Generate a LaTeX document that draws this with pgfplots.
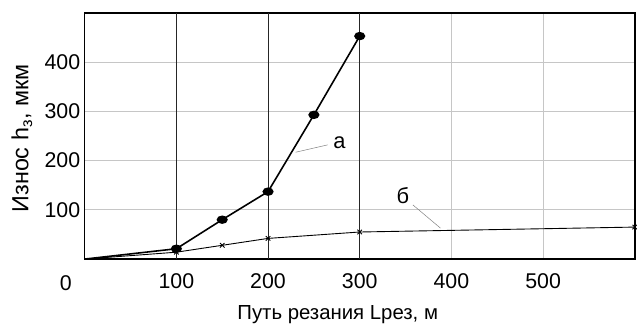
\documentclass[border=0pt]{standalone}
\usepackage{pgfplots}
\pgfplotsset{compat=1.18}
\usepackage{fontspec}
\setmainfont{Liberation Sans}
\usetikzlibrary{calc}
\begin{document}
\begin{tikzpicture}
\begin{axis}[
  name=ax,
  scale only axis,
  width=552bp, height=247bp,
  xmin=0, xmax=600, ymin=0, ymax=500,
  xtick={100,200,300,400,500},
  ytick={100,200,300,400},
  extra x ticks={100,200,300},
  extra x tick labels={},
  extra x tick style={grid=major, major grid style={black!85, line width=1.1pt}},
  grid=major,
  major grid style={gray!45, line width=0.9pt},
  tick style={draw=none},
  axis line style={black, line width=1.6pt},
  /pgf/number format/assume math mode=true,
  tick label style={font=\fontsize{21.5}{23}\selectfont},
  xticklabel style={yshift=-11.5bp},
  yticklabel style={xshift=-1pt},
  xlabel={Путь резания Lрез, м},
  xlabel style={font=\fontsize{20.5}{22}\selectfont, at={(axis description cs:0.46,0)}, anchor=center, yshift=-56bp},
  ylabel={Износ h\textsubscript{з}, мкм},
  ylabel style={font=\fontsize{23.5}{25}\selectfont, at={(axis description cs:0,0.49)}, anchor=center, yshift=63bp},
  clip=false,
]
\addplot[black, line width=1.6pt, mark=*, mark indices={2,3,4,5,6}, mark options={xscale=1.4, scale=1.7}]
  coordinates {(0,0) (100,21) (150,80) (200,137) (250,293) (300,453)};
\addplot[black, line width=0.9pt, mark=x, mark options={scale=1.6, line width=0.9pt}, mark indices={2,3,4,5,6}]
  coordinates {(0,0) (100,14) (150,28) (200,42) (300,55) (600,65)};
\node[font=\fontsize{21.5}{23}\selectfont] at (axis cs:0,0) [xshift=-19bp, yshift=-24bp] {0};
\draw[gray, line width=0.5pt] (axis cs:230,217) -- (axis cs:265,232);
\node[font=\fontsize{22}{24}\selectfont] at (axis cs:278,236) {а};
\draw[gray, line width=0.5pt] (axis cs:358,110) -- (axis cs:388,63);
\node[font=\fontsize{22}{24}\selectfont] at (axis cs:347,129) {б};
\end{axis}
\path[use as bounding box] ($(ax.south west)+(-85bp,-61bp)$) rectangle ($(ax.north east)+(0bp,13bp)$);
\end{tikzpicture}
\end{document}
